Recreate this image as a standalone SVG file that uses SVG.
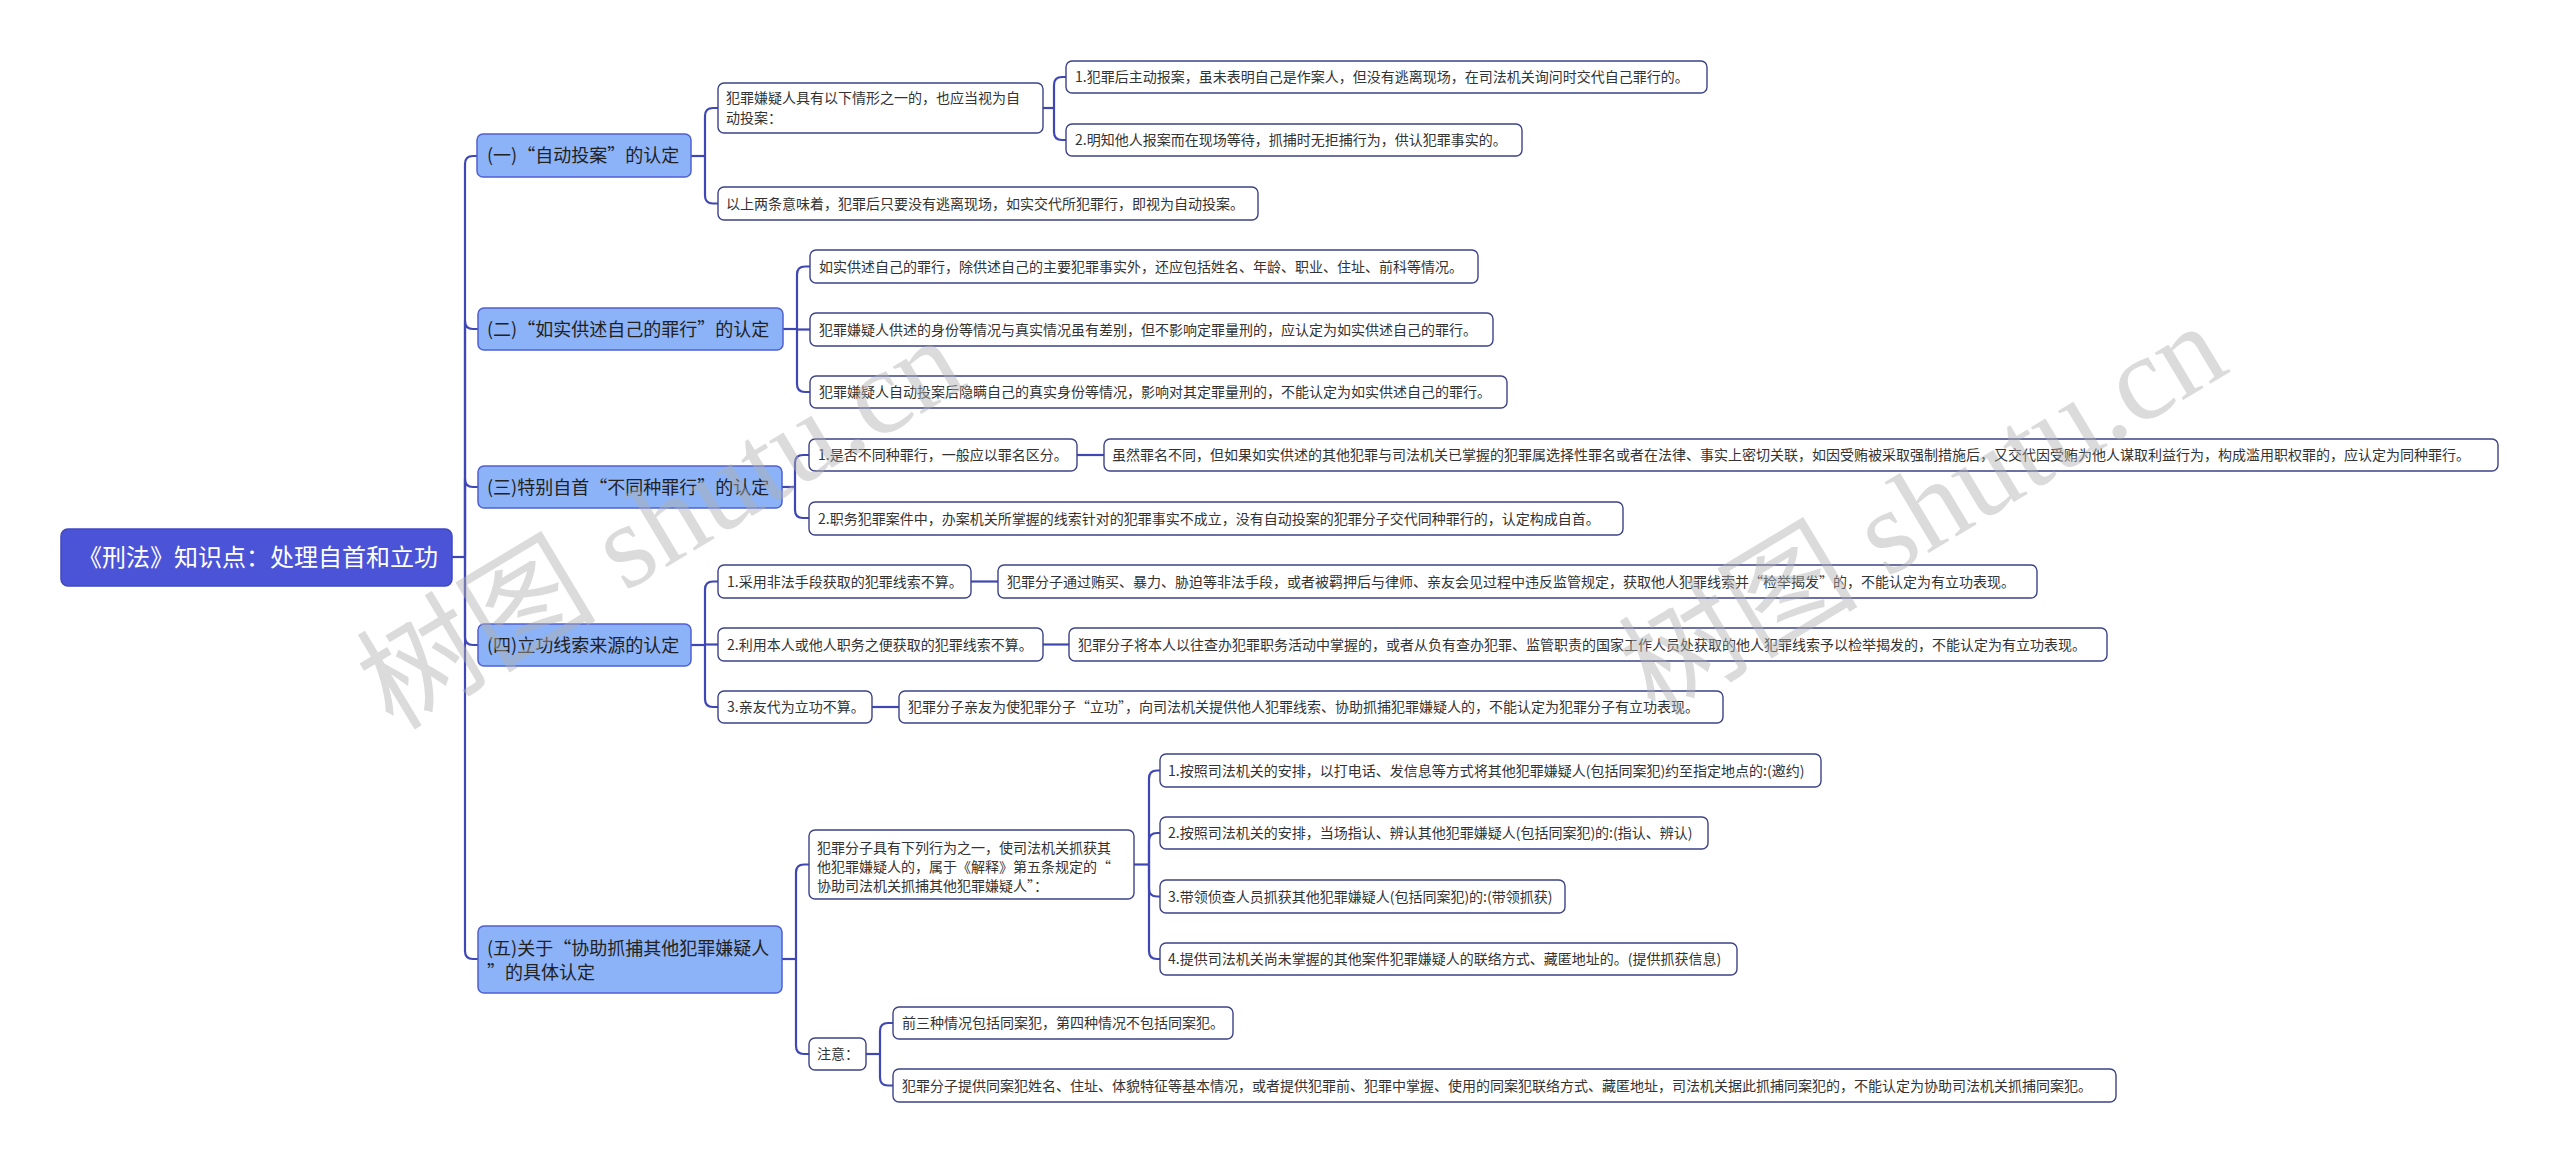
<svg xmlns="http://www.w3.org/2000/svg" width="2560" height="1163" viewBox="0 0 2560 1163">
<style>
.bg{fill:#ffffff}
.root rect{fill:#4b54d6;stroke:#3f48c4;stroke-width:1.5}
.root text{font-family:"Noto Sans CJK SC","Noto Sans",sans-serif;font-size:24px;fill:#ffffff}
.br rect{fill:#8cb3f7;stroke:#5060d4;stroke-width:1.5}
.br text{font-family:"Noto Sans CJK SC","Noto Sans",sans-serif;font-size:18px;fill:#222222}
.lf rect{fill:#ffffff;stroke:#3d4388;stroke-width:1.4}
.lf text{font-family:"Noto Sans CJK SC","Noto Sans",sans-serif;font-size:14px;fill:#333333}
.ln path{fill:none;stroke:#3f47b5;stroke-width:2.2}
.wm{font-family:"Liberation Serif","Noto Sans CJK SC",serif;font-size:120px;fill:#b0b0b0;opacity:0.45}
</style>
<rect class="bg" x="0" y="0" width="2560" height="1163"/>

<g id="connectors" class="ln">
  <path d="M452,557 H465"/>
  <path d="M465,557 V164 Q465,156 473,156 H477"/>
  <path d="M465,557 V321 Q465,329 473,329 H478"/>
  <path d="M465,557 V479 Q465,487 473,487 H478"/>
  <path d="M465,557 V637 Q465,645 473,645 H478"/>
  <path d="M465,557 V951 Q465,959 473,959 H478"/>
  <path d="M691,156 H705"/>
  <path d="M705,156 V116 Q705,108 713,108 H718"/>
  <path d="M705,156 V195.5 Q705,203.5 713,203.5 H718"/>
  <path d="M1043,108 H1054"/>
  <path d="M1054,108 V85 Q1054,77 1062,77 H1066"/>
  <path d="M1054,108 V132 Q1054,140 1062,140 H1066"/>
  <path d="M783,329 H797"/>
  <path d="M797,329 V274.5 Q797,266.5 805,266.5 H810"/>
  <path d="M797,329.5 H810"/>
  <path d="M797,329 V384 Q797,392 805,392 H810"/>
  <path d="M782,487 H795"/>
  <path d="M795,487 V463 Q795,455 803,455 H809"/>
  <path d="M795,487 V510 Q795,518 803,518 H809"/>
  <path d="M1077,455 H1104"/>
  <path d="M691,645 H705"/>
  <path d="M705,645 V589.5 Q705,581.5 713,581.5 H718"/>
  <path d="M705,644.5 H718"/>
  <path d="M705,645 V699 Q705,707 713,707 H718"/>
  <path d="M971,581.5 H998"/>
  <path d="M1043,644.5 H1069"/>
  <path d="M872,707 H899"/>
  <path d="M782,959 H796"/>
  <path d="M796,959 V872.5 Q796,864.5 804,864.5 H809"/>
  <path d="M796,959 V1046 Q796,1054 804,1054 H809"/>
  <path d="M1134,864.5 H1149"/>
  <path d="M1149,864.5 V778.5 Q1149,770.5 1157,770.5 H1160"/>
  <path d="M1149,864.5 V841 Q1149,833 1157,833 H1160"/>
  <path d="M1149,864.5 V888.5 Q1149,896.5 1157,896.5 H1160"/>
  <path d="M1149,864.5 V951 Q1149,959 1157,959 H1160"/>
  <path d="M866,1054 H880"/>
  <path d="M880,1054 V1031 Q880,1023 888,1023 H893"/>
  <path d="M880,1054 V1077.5 Q880,1085.5 888,1085.5 H893"/>
</g>

<g id="root" class="root">
  <rect x="61" y="529" width="391" height="57" rx="7"/>
  <text x="258" y="565.5" text-anchor="middle">《刑法》知识点：处理自首和立功</text>
</g>

<g id="b1" class="br">
  <rect x="477" y="134" width="214" height="43" rx="6"/>
  <text x="487" y="162">(一)“自动投案”的认定</text>
</g>
<g id="b1a" class="lf">
  <rect x="718" y="83" width="325" height="50" rx="6"/>
  <text x="726" y="103">犯罪嫌疑人具有以下情形之一的，也应当视为自</text>
  <text x="726" y="123">动投案：</text>
</g>
<g id="b1a1" class="lf">
  <rect x="1066" y="61" width="641" height="32" rx="6"/>
  <text x="1075" y="82">1.犯罪后主动报案，虽未表明自己是作案人，但没有逃离现场，在司法机关询问时交代自己罪行的。</text>
</g>
<g id="b1a2" class="lf">
  <rect x="1066" y="124" width="456" height="32" rx="6"/>
  <text x="1075" y="145">2.明知他人报案而在现场等待，抓捕时无拒捕行为，供认犯罪事实的。</text>
</g>
<g id="b1b" class="lf">
  <rect x="718" y="187" width="540" height="33" rx="6"/>
  <text x="726" y="208.5">以上两条意味着，犯罪后只要没有逃离现场，如实交代所犯罪行，即视为自动投案。</text>
</g>

<g id="b2" class="br">
  <rect x="478" y="308" width="305" height="42" rx="6"/>
  <text x="487" y="335.5">(二)“如实供述自己的罪行”的认定</text>
</g>
<g id="b2c1" class="lf">
  <rect x="810" y="250" width="668" height="33" rx="6"/>
  <text x="819" y="271.5">如实供述自己的罪行，除供述自己的主要犯罪事实外，还应包括姓名、年龄、职业、住址、前科等情况。</text>
</g>
<g id="b2c2" class="lf">
  <rect x="810" y="313" width="683" height="33" rx="6"/>
  <text x="819" y="334.5">犯罪嫌疑人供述的身份等情况与真实情况虽有差别，但不影响定罪量刑的，应认定为如实供述自己的罪行。</text>
</g>
<g id="b2c3" class="lf">
  <rect x="810" y="376" width="697" height="32" rx="6"/>
  <text x="819" y="397">犯罪嫌疑人自动投案后隐瞒自己的真实身份等情况，影响对其定罪量刑的，不能认定为如实供述自己的罪行。</text>
</g>

<g id="b3" class="br">
  <rect x="478" y="466" width="304" height="42" rx="6"/>
  <text x="487" y="493.5">(三)特别自首“不同种罪行”的认定</text>
</g>
<g id="b3d1" class="lf">
  <rect x="809" y="439" width="268" height="32" rx="6"/>
  <text x="818" y="460">1.是否不同种罪行，一般应以罪名区分。</text>
</g>
<g id="b3d1e" class="lf">
  <rect x="1104" y="439" width="1394" height="32" rx="6"/>
  <text x="1112" y="460">虽然罪名不同，但如果如实供述的其他犯罪与司法机关已掌握的犯罪属选择性罪名或者在法律、事实上密切关联，如因受贿被采取强制措施后，又交代因受贿为他人谋取利益行为，构成滥用职权罪的，应认定为同种罪行。</text>
</g>
<g id="b3d2" class="lf">
  <rect x="809" y="502" width="814" height="33" rx="6"/>
  <text x="818" y="523.5">2.职务犯罪案件中，办案机关所掌握的线索针对的犯罪事实不成立，没有自动投案的犯罪分子交代同种罪行的，认定构成自首。</text>
</g>

<g id="b4" class="br">
  <rect x="478" y="624" width="213" height="42" rx="6"/>
  <text x="487" y="651.5">(四)立功线索来源的认定</text>
</g>
<g id="b4f1" class="lf">
  <rect x="718" y="565" width="253" height="33" rx="6"/>
  <text x="727" y="586.5">1.采用非法手段获取的犯罪线索不算。</text>
</g>
<g id="b4g1" class="lf">
  <rect x="998" y="565" width="1039" height="33" rx="6"/>
  <text x="1007" y="586.5">犯罪分子通过贿买、暴力、胁迫等非法手段，或者被羁押后与律师、亲友会见过程中违反监管规定，获取他人犯罪线索并“检举揭发”的，不能认定为有立功表现。</text>
</g>
<g id="b4f2" class="lf">
  <rect x="718" y="628" width="325" height="33" rx="6"/>
  <text x="727" y="649.5">2.利用本人或他人职务之便获取的犯罪线索不算。</text>
</g>
<g id="b4g2" class="lf">
  <rect x="1069" y="628" width="1038" height="33" rx="6"/>
  <text x="1078" y="649.5">犯罪分子将本人以往查办犯罪职务活动中掌握的，或者从负有查办犯罪、监管职责的国家工作人员处获取的他人犯罪线索予以检举揭发的，不能认定为有立功表现。</text>
</g>
<g id="b4f3" class="lf">
  <rect x="718" y="691" width="154" height="32" rx="6"/>
  <text x="727" y="712">3.亲友代为立功不算。</text>
</g>
<g id="b4g3" class="lf">
  <rect x="899" y="691" width="824" height="32" rx="6"/>
  <text x="908" y="712">犯罪分子亲友为使犯罪分子“立功”，向司法机关提供他人犯罪线索、协助抓捕犯罪嫌疑人的，不能认定为犯罪分子有立功表现。</text>
</g>

<g id="b5" class="br">
  <rect x="478" y="926" width="304" height="67" rx="6"/>
  <text x="487" y="955">(五)关于“协助抓捕其他犯罪嫌疑人</text>
  <text x="487" y="979">”的具体认定</text>
</g>
<g id="b5h1" class="lf">
  <rect x="809" y="830" width="325" height="69" rx="6"/>
  <text x="817" y="853">犯罪分子具有下列行为之一，使司法机关抓获其</text>
  <text x="817" y="872">他犯罪嫌疑人的，属于《解释》第五条规定的“</text>
  <text x="817" y="891">协助司法机关抓捕其他犯罪嫌疑人”：</text>
</g>
<g id="b5i1" class="lf">
  <rect x="1160" y="754" width="661" height="33" rx="6"/>
  <text x="1168" y="775.5">1.按照司法机关的安排，以打电话、发信息等方式将其他犯罪嫌疑人(包括同案犯)约至指定地点的:(邀约)</text>
</g>
<g id="b5i2" class="lf">
  <rect x="1160" y="817" width="548" height="32" rx="6"/>
  <text x="1168" y="838">2.按照司法机关的安排，当场指认、辨认其他犯罪嫌疑人(包括同案犯)的:(指认、辨认)</text>
</g>
<g id="b5i3" class="lf">
  <rect x="1160" y="880" width="405" height="33" rx="6"/>
  <text x="1168" y="901.5">3.带领侦查人员抓获其他犯罪嫌疑人(包括同案犯)的:(带领抓获)</text>
</g>
<g id="b5i4" class="lf">
  <rect x="1160" y="943" width="577" height="32" rx="6"/>
  <text x="1168" y="964">4.提供司法机关尚未掌握的其他案件犯罪嫌疑人的联络方式、藏匿地址的。(提供抓获信息)</text>
</g>
<g id="b5h2" class="lf">
  <rect x="809" y="1038" width="57" height="32" rx="6"/>
  <text x="817" y="1059">注意：</text>
</g>
<g id="b5j1" class="lf">
  <rect x="893" y="1007" width="340" height="32" rx="6"/>
  <text x="902" y="1028">前三种情况包括同案犯，第四种情况不包括同案犯。</text>
</g>
<g id="b5j2" class="lf">
  <rect x="893" y="1069" width="1223" height="33" rx="6"/>
  <text x="902" y="1090.5">犯罪分子提供同案犯姓名、住址、体貌特征等基本情况，或者提供犯罪前、犯罪中掌握、使用的同案犯联络方式、藏匿地址，司法机关据此抓捕同案犯的，不能认定为协助司法机关抓捕同案犯。</text>
</g>

<g id="watermark">
  <text class="wm" transform="translate(660,522) rotate(-31)" x="0" y="42" text-anchor="middle">树图 shutu.cn</text>
  <text class="wm" transform="translate(1922,508) rotate(-31)" x="0" y="42" text-anchor="middle">树图 shutu.cn</text>
</g>
</svg>
